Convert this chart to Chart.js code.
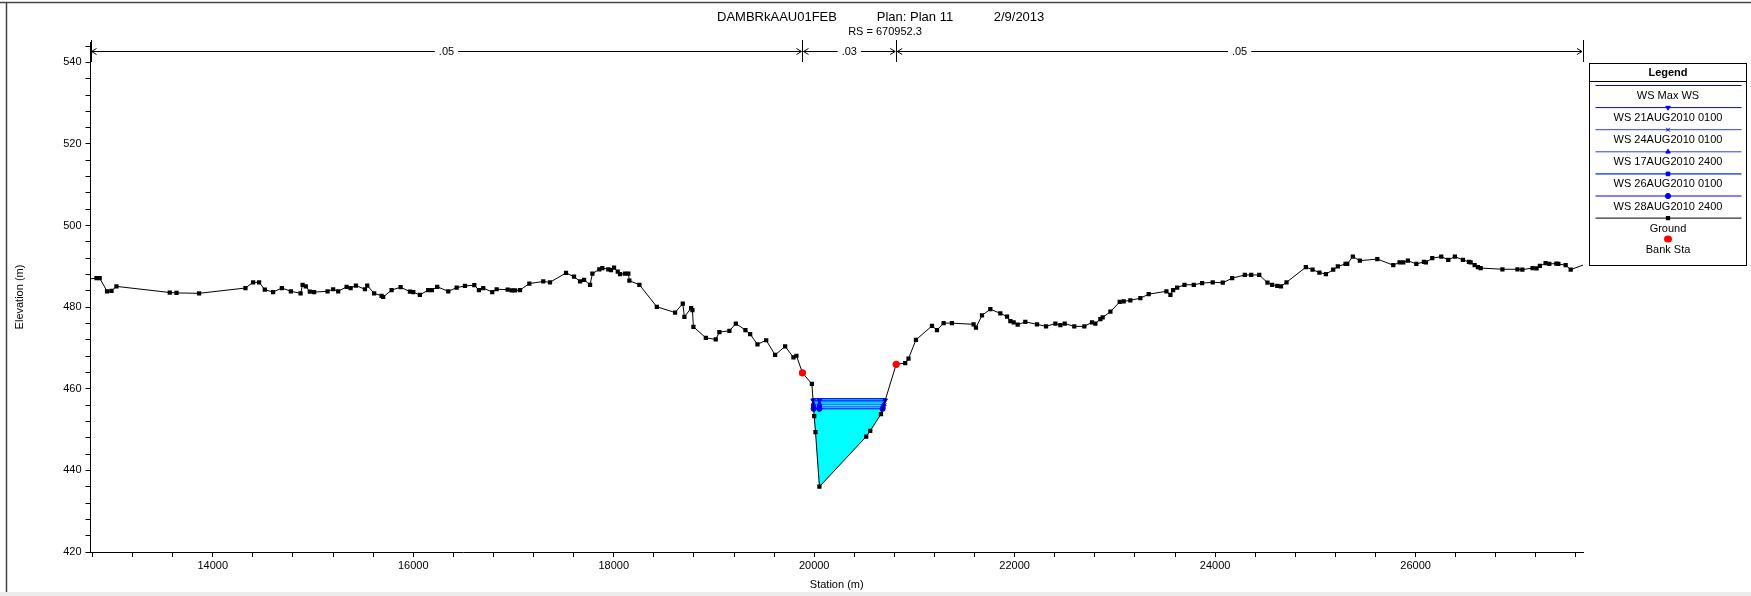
<!DOCTYPE html>
<html>
<head>
<meta charset="utf-8">
<script src="https://cdn.jsdelivr.net/npm/chart.js@4.4.1/dist/chart.umd.min.js"></script>
<style>
html, body { margin: 0; padding: 0; background: #fff; }
#wrap { width: 1751px; height: 596px; }
</style>
</head>
<body>
<div id="wrap"><canvas id="xsChart" width="1751" height="596"></canvas></div>
<script>
const FONT = "'Liberation Sans', Arial, sans-serif";

// CROSS SECTION DATA
const groundStation = [12750, 12840, 12872, 12945, 12989, 13039, 13571, 13638, 13863, 14326, 14402, 14462,
  14519, 14602, 14689, 14779, 14876, 14896, 14928, 14968, 15011, 15145, 15201, 15251, 15335, 15375, 15428,
  15518, 15541, 15610, 15684, 15700, 15784, 15874, 15967, 16000, 16066, 16149, 16186, 16239, 16349, 16433,
  16516, 16609, 16655, 16698, 16788, 16832, 16942, 16982, 17015, 17065, 17158, 17297, 17364, 17524, 17604,
  17664, 17704, 17764, 17787, 17856, 17886, 17946, 17973, 18003, 18040, 18063, 18113, 18146, 18156, 18256,
  18430, 18612, 18689, 18705, 18772, 18785, 18795, 18919, 19018, 19054, 19154, 19218, 19314, 19361, 19434,
  19521, 19610, 19710, 19793, 19823, 19883, 19977, 20000, 20013, 20052, 20519, 20559, 20666, 20818, 20908,
  20941, 21015, 21175, 21225, 21291, 21374, 21590, 21614, 21674, 21757, 21857, 21924, 21957, 21990, 22030,
  22106, 22223, 22313, 22406, 22456, 22499, 22595, 22695, 22772, 22805, 22855, 22878, 22955, 23048, 23088,
  23154, 23254, 23337, 23514, 23554, 23581, 23621, 23694, 23787, 23870, 23976, 24076, 24170, 24296, 24360,
  24440, 24522, 24569, 24620, 24657, 24712, 24905, 24972, 25040, 25105, 25178, 25224, 25301, 25318, 25374,
  25444, 25618, 25777, 25840, 25877, 25923, 26007, 26083, 26103, 26166, 26256, 26326, 26392, 26472, 26532,
  26549, 26589, 26622, 26649, 26866, 27016, 27065, 27167, 27207, 27240, 27297, 27334, 27404, 27424, 27497,
  27547, 27700];
const groundElev = [486.9, 487.1, 487.1, 483.9, 484.0, 485.1, 483.6, 483.5, 483.4, 484.7, 486.1, 486.1,
  484.3, 483.7, 484.7, 483.9, 483.4, 485.5, 485.1, 483.8, 483.7, 483.9, 484.4, 483.9, 485.0, 484.7, 485.3,
  484.4, 485.3, 483.4, 482.8, 482.5, 484.2, 484.9, 483.8, 483.7, 483.0, 484.2, 484.2, 485.0, 483.9, 484.8,
  485.2, 485.4, 484.2, 484.7, 483.7, 484.4, 484.3, 484.1, 484.1, 484.2, 485.8, 486.3, 486.1, 488.4, 487.5,
  486.3, 486.7, 485.5, 488.2, 489.3, 489.6, 489.3, 489.1, 489.7, 488.7, 488.1, 488.2, 488.2, 486.5, 485.5,
  480.1, 478.7, 480.9, 477.6, 479.8, 479.3, 475.2, 472.5, 472.1, 473.9, 474.2, 476.0, 474.4, 473.4, 470.9,
  471.9, 468.3, 470.4, 467.7, 468.1, 463.9, 461.2, 453.3, 449.4, 436.0, 448.3, 449.7, 453.8, 466.0, 466.3,
  467.4, 472.0, 475.4, 474.4, 476.1, 476.1, 475.8, 475.0, 478.0, 479.5, 478.5, 477.7, 476.6, 476.3, 475.7,
  476.4, 475.8, 475.3, 476.0, 475.6, 476.0, 475.3, 475.3, 476.3, 476.0, 477.1, 477.5, 478.9, 481.3, 481.4,
  481.7, 482.2, 483.2, 483.9, 483.0, 484.2, 484.8, 485.5, 485.5, 485.9, 486.1, 486.0, 487.1, 487.9, 487.9,
  487.9, 486.0, 485.5, 485.2, 485.1, 486.1, 489.8, 489.2, 488.5, 488.1, 489.2, 490.0, 490.6, 490.6, 492.4,
  491.4, 491.8, 490.3, 491.0, 491.0, 491.4, 490.6, 491.1, 491.0, 492.0, 492.4, 491.6, 492.4, 491.6, 491.1,
  491.0, 490.3, 489.8, 489.6, 489.3, 489.3, 489.2, 489.6, 489.5, 490.1, 490.8, 490.6, 490.7, 490.6, 490.3,
  489.2, 490.6];

const bankStation = [19883, 20818];
const bankElev = [463.9, 466.0];

const wsNames = ['WS Max WS', 'WS 21AUG2010 0100', 'WS 24AUG2010 0100', 'WS 17AUG2010 2400',
  'WS 26AUG2010 0100', 'WS 28AUG2010 2400'];
const wsElev = [457.6, 457.2, 456.8, 456.2, 455.6, 455.1];

const mannN = ['.05', '.03', '.05'];

const xLabelTicks = [14000, 16000, 18000, 20000, 22000, 24000, 26000];
const yLabelTicks = [420, 440, 460, 480, 500, 520, 540];

const titleParts = ['DAMBRkAAU01FEB', 'Plan: Plan 11', '2/9/2013'];
const subTitleText = 'RS = 670952.3';

// styles per water surface profile
const wsStyles = [
  { pointStyle: false, color: '#0000ff', width: 1 },
  { pointStyle: 'triangle', rotation: 180, color: '#0000ff', width: 1 },
  { pointStyle: 'crossRot', rotation: 0, color: '#2a3cff', width: 1 },
  { pointStyle: 'triangle', rotation: 0, color: '#2a3cff', width: 1 },
  { pointStyle: 'rect', rotation: 0, color: '#4a66ff', width: 1.6 },
  { pointStyle: 'circle', rotation: 0, color: '#0000ff', width: 1 }
];

// where a water surface meets the ground on each side of the thalweg
const lowIdx = groundElev.indexOf(Math.min(...groundElev));
function crossAt(a, b, h) {
  const t = (h - groundElev[a]) / (groundElev[b] - groundElev[a]);
  return groundStation[a] + t * (groundStation[b] - groundStation[a]);
}
function wsExtent(h) {
  let i = lowIdx;
  while (i > 0 && groundElev[i - 1] < h) i--;
  let j = lowIdx;
  while (j < groundElev.length - 1 && groundElev[j + 1] < h) j++;
  return { left: crossAt(i - 1, i, h), right: crossAt(j + 1, j, h), from: i, to: j };
}

const groundPts = groundStation.map((s, k) => ({ x: s, y: groundElev[k] }));
const bankPts = bankStation.map((s, k) => ({ x: s, y: bankElev[k] }));

const maxExt = wsExtent(Math.max(...wsElev));
const waterPts = [{ x: maxExt.left, y: Math.max(...wsElev) }];
for (let k = maxExt.from; k <= maxExt.to; k++) waterPts.push(groundPts[k]);
waterPts.push({ x: maxExt.right, y: Math.max(...wsElev) });

const datasets = [];
datasets.push({
  label: 'Water', data: waterPts, fill: 'shape', backgroundColor: '#00ffff',
  borderWidth: 0, borderColor: 'rgba(0,0,0,0)', pointRadius: 0, order: 20
});
wsElev.forEach((h, k) => {
  const e = wsExtent(h);
  const st = wsStyles[k];
  datasets.push({
    label: wsNames[k],
    data: [{ x: e.left, y: h }, { x: groundStation[lowIdx], y: h }, { x: e.right, y: h }],
    borderColor: st.color, borderWidth: st.width,
    pointStyle: st.pointStyle, rotation: st.rotation || 0,
    pointRadius: st.pointStyle ? 2.6 : 0,
    pointBackgroundColor: '#0000ff', pointBorderColor: '#0000ff', pointBorderWidth: 1,
    order: 10 - k
  });
});
datasets.push({
  label: 'Ground', data: groundPts, borderColor: '#000', borderWidth: 1,
  pointStyle: 'rect',
  pointRadius: ctx => (ctx.raw && bankStation.includes(ctx.raw.x)) ? 0 : 3,
  pointBackgroundColor: '#000', pointBorderWidth: 0, order: 2
});
datasets.push({
  label: 'Bank Sta', data: bankPts, showLine: false, pointStyle: 'circle',
  pointRadius: 3.6, pointBackgroundColor: '#ff0000', pointBorderColor: '#ff0000',
  pointBorderWidth: 0, order: 1
});

// FRAME, TITLE
const framePlugin = {
  id: 'frame',
  beforeDraw(chart) {
    const c = chart.ctx;
    c.save();
    c.fillStyle = '#fff';
    c.fillRect(0, 0, chart.width, chart.height);
    c.fillStyle = '#ececec';
    c.fillRect(0, 592, chart.width, 4);
    c.strokeStyle = '#444';
    c.lineWidth = 1.5;
    c.beginPath();
    c.moveTo(0, 2.5); c.lineTo(chart.width, 2.5);
    c.moveTo(6.5, 2.5); c.lineTo(6.5, 592);
    c.stroke();
    c.restore();
  },
  afterDraw(chart) {
    const c = chart.ctx;
    c.save();
    c.fillStyle = '#000';
    c.textAlign = 'center';
    c.textBaseline = 'middle';
    c.font = '13px ' + FONT;
    const centers = [777, 915, 1019];
    titleParts.forEach((p, k) => c.fillText(p, centers[k], 17));
    c.font = '11px ' + FONT;
    c.fillText(subTitleText, 885, 32);
    c.restore();
  }
};

// MANNING N BAR
const manningPlugin = {
  id: 'manning',
  afterDraw(chart) {
    const c = chart.ctx;
    const xs = chart.scales.x;
    const edges = [xs.min, ...bankStation, xs.max].map(v => xs.getPixelForValue(v));
    const y = chart.chartArea.top + 9;
    c.save();
    c.strokeStyle = '#000';
    c.fillStyle = '#000';
    c.lineWidth = 1;
    c.font = '11px ' + FONT;
    c.textAlign = 'center';
    c.textBaseline = 'middle';
    edges.forEach(px => {
      c.beginPath();
      c.moveTo(Math.round(px) + 0.5, y - 11);
      c.lineTo(Math.round(px) + 0.5, y + 11);
      c.stroke();
    });
    mannN.forEach((lab, k) => {
      const x0 = edges[k] + 1, x1 = edges[k + 1] - 1;
      const mid = (x0 + x1) / 2;
      const w = c.measureText(lab).width + 8;
      c.beginPath();
      c.moveTo(x0, y + 0.5); c.lineTo(mid - w / 2, y + 0.5);
      c.moveTo(mid + w / 2, y + 0.5); c.lineTo(x1, y + 0.5);
      // arrow heads
      c.moveTo(x0 + 5, y - 2.5); c.lineTo(x0, y + 0.5); c.lineTo(x0 + 5, y + 3.5);
      c.moveTo(x1 - 5, y - 2.5); c.lineTo(x1, y + 0.5); c.lineTo(x1 - 5, y + 3.5);
      c.stroke();
      c.fillText(lab, mid, y + 1);
    });
    c.restore();
  }
};

// LEGEND BOX
const legendPlugin = {
  id: 'xsLegend',
  afterDraw(chart) {
    const c = chart.ctx;
    const L = 1589.5, R = 1746.5, T = 63.5, B = 265.5;
    c.save();
    c.fillStyle = '#fff';
    c.fillRect(L, T, R - L, B - T);
    c.strokeStyle = '#000';
    c.lineWidth = 1;
    c.strokeRect(L, T, R - L, B - T);
    c.beginPath(); c.moveTo(L, 81.5); c.lineTo(R, 81.5); c.stroke();
    const cx = (L + R) / 2;
    c.fillStyle = '#000';
    c.textAlign = 'center';
    c.textBaseline = 'middle';
    c.font = 'bold 11px ' + FONT;
    c.fillText('Legend', cx, 72.5);
    c.font = '11px ' + FONT;
    const rows = wsNames.map((n, k) => ({ name: n, st: wsStyles[k] }));
    rows.forEach((row, k) => {
      const ly = 85.5 + k * 22.1;
      c.strokeStyle = row.st.color;
      c.lineWidth = row.st.width;
      c.beginPath(); c.moveTo(L + 6, ly); c.lineTo(R - 5, ly); c.stroke();
      if (row.st.pointStyle) {
        c.fillStyle = '#0000ff';
        c.strokeStyle = '#0000ff';
        c.lineWidth = 1;
        Chart.helpers.drawPoint(c, { pointStyle: row.st.pointStyle, rotation: row.st.rotation, radius: 2.6, borderWidth: 1 }, cx, ly);
      }
      c.fillStyle = '#000';
      c.fillText(row.name, cx, ly + 10.5);
    });
    const gy = 85.5 + 6 * 22.1;
    c.strokeStyle = '#000'; c.lineWidth = 1;
    c.beginPath(); c.moveTo(L + 6, gy); c.lineTo(R - 5, gy); c.stroke();
    c.fillStyle = '#000';
    Chart.helpers.drawPoint(c, { pointStyle: 'rect', radius: 3, borderWidth: 0 }, cx, gy);
    c.fillText('Ground', cx, gy + 10.5);
    c.fillStyle = '#ff0000';
    c.beginPath(); c.ellipse(cx, gy + 21, 4, 3.5, 0, 0, Math.PI * 2); c.fill();
    c.fillStyle = '#000';
    c.fillText('Bank Sta', cx, gy + 31.5);
    c.restore();
  }
};

const ctx = document.getElementById('xsChart');

new Chart(ctx, {
  type: 'line',
  data: { datasets: datasets },
  options: {
    responsive: false,
    animation: false,
    layout: { padding: { left: 0, right: 168, top: 42, bottom: 0 } },
    elements: { line: { tension: 0 } },
    plugins: {
      legend: { display: false },
      tooltip: { enabled: false }
    },
    scales: {
      x: {
        type: 'linear',
        min: 12780,
        max: 27670,
        afterBuildTicks: s => {
          const t = [];
          for (let v = Math.ceil(s.min / 400) * 400; v <= s.max; v += 400) t.push({ value: v });
          s.ticks = t;
        },
        afterFit: s => { s.height = 44; },
        ticks: {
          autoSkip: false, maxRotation: 0, padding: 2, color: '#000',
          font: { family: FONT, size: 11 },
          callback: v => xLabelTicks.includes(v) ? String(v) : ''
        },
        grid: { drawOnChartArea: false, drawTicks: true, tickLength: 5, color: '#000' },
        border: { color: '#000', width: 1 },
        title: {
          display: true, text: 'Station (m)', color: '#000',
          font: { family: FONT, size: 11 }, padding: { top: 0, bottom: 4 }
        }
      },
      y: {
        type: 'linear',
        min: 420,
        max: 545,
        afterBuildTicks: s => {
          const t = [];
          for (let v = 420; v <= s.max; v += 4) t.push({ value: v });
          s.ticks = t;
        },
        afterFit: s => { s.width = 90.5; },
        ticks: {
          autoSkip: false, padding: 4, color: '#000',
          font: { family: FONT, size: 11 },
          callback: v => yLabelTicks.includes(v) ? String(v) : ''
        },
        grid: { drawOnChartArea: false, drawTicks: true, tickLength: 5, color: '#000' },
        border: { color: '#000', width: 1 },
        title: {
          display: true, text: 'Elevation (m)', color: '#000',
          font: { family: FONT, size: 11 }, padding: { top: 13, bottom: 0 }
        }
      }
    }
  },
  plugins: [framePlugin, manningPlugin, legendPlugin]
});
</script>
</body>
</html>
